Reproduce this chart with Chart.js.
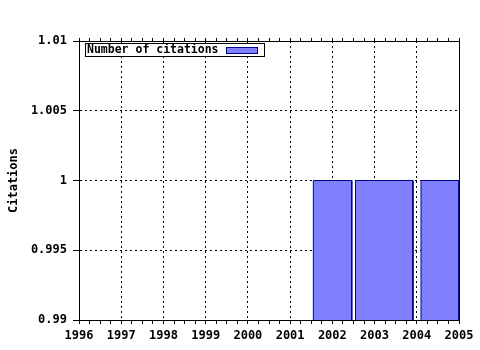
<!DOCTYPE html>
<html>
<head>
<meta charset="utf-8">
<script src="https://cdn.jsdelivr.net/npm/chart.js@4.4.1/dist/chart.umd.min.js"></script>
<style>
  html, body { margin: 0; background: #fff; }
</style>
</head>
<body>
<canvas id="chart" width="480" height="350"></canvas>
<script>
// ---- data ----
const years = [1996, 1997, 1998, 1999, 2000, 2001, 2002, 2003, 2004, 2005];
const yTicks = [0.99, 0.995, 1, 1.005, 1.01];
const barStart = [2001.55, 2002.55, 2004.1];   // left edge of each bar (year)
const barEnd   = [2002.46, 2003.91, 2005.0];   // right edge of each bar (year)
const citations = [1, 1, 1];
const seriesLabel = 'Number of citations';
const yTitle = 'Citations';

const yMin = yTicks[0], yMax = yTicks[yTicks.length - 1];
const xMin = years[0], xMax = years[years.length - 1];

const font = { family: '"DejaVu Sans Mono", monospace', size: 12, weight: 'bold' };
const fill = '#8080ff', edge = '#000090';

// major ticks on years, minor every quarter
const xTickList = [];
years.forEach((y, i) => {
  xTickList.push({ value: y });
  if (i < years.length - 1) [0.25, 0.5, 0.75].forEach(f => xTickList.push({ value: y + f }));
});
const isYear = v => years.includes(v);

// each bar is a closed outline filled down to the axis
const datasets = barStart.map((s, i) => ({
  label: seriesLabel,
  data: [
    { x: s, y: yMin }, { x: s, y: citations[i] },
    { x: barEnd[i], y: citations[i] }, { x: barEnd[i], y: yMin }
  ],
  borderColor: edge,
  backgroundColor: fill,
  borderWidth: 1,
  fill: 'start',
  pointRadius: 0,
  tension: 0,
  xAxisID: 'x',
  yAxisID: 'y'
}));

// legend drawn inside the plot, top left, with a frame
const boxLegend = {
  id: 'boxLegend',
  afterDatasetsDraw(chart) {
    const { ctx, chartArea: a } = chart;
    const label = chart.data.datasets[0].label;
    ctx.save();
    ctx.font = 'bold 11.5px "DejaVu Sans Mono", monospace';
    const tw = ctx.measureText(label).width;
    const x = Math.round(a.left) + 6, y = Math.round(a.top) + 2, h = 13, w = Math.round(tw) + 47;
    ctx.fillStyle = '#fff';
    ctx.fillRect(x, y, w, h);
    ctx.strokeStyle = '#000';
    ctx.lineWidth = 1;
    ctx.strokeRect(x + 0.5, y + 0.5, w, h);
    ctx.fillStyle = '#000';
    ctx.textBaseline = 'middle';
    ctx.fillText(label, x + 2, y + h / 2 + 1);
    const sx = x + w - 38;
    ctx.fillStyle = fill;
    ctx.fillRect(sx, y + 4, 31, 6);
    ctx.strokeStyle = edge;
    ctx.strokeRect(sx + 0.5, y + 4.5, 31, 6);
    ctx.restore();
  }
};

new Chart(document.getElementById('chart'), {
  type: 'line',
  data: { datasets },
  plugins: [boxLegend],
  options: {
    responsive: false,
    animation: false,
    layout: { padding: { left: 0, top: 38, right: 21, bottom: 0 } },
    plugins: { legend: { display: false }, tooltip: { enabled: false } },
    scales: {
      x: {
        type: 'linear', position: 'bottom', min: xMin, max: xMax,
        afterBuildTicks: s => { s.ticks = xTickList.map(t => ({ ...t })); },
        afterFit: s => { s.height = 30; },
        ticks: {
          callback: v => isYear(v) ? String(v) : '',
          autoSkip: false, maxRotation: 0, minRotation: 0,
          padding: 5, color: '#000', font
        },
        grid: {
          color: c => (c.tick && isYear(c.tick.value)) ? '#000' : 'rgba(0,0,0,0)',
          tickColor: '#000', tickLength: 4, lineWidth: 1
        },
        border: { color: '#000', dash: [2, 3], z: 1 }
      },
      x2: {
        type: 'linear', position: 'top', min: xMin, max: xMax,
        afterBuildTicks: s => { s.ticks = xTickList.map(t => ({ ...t })); },
        afterFit: s => { s.height = 3; },
        ticks: { display: false },
        grid: { drawOnChartArea: false, tickLength: 3, color: '#000' },
        border: { color: '#000', z: 1 }
      },
      y: {
        type: 'linear', position: 'left', min: yMin, max: yMax,
        afterBuildTicks: s => { s.ticks = yTicks.map(v => ({ value: v })); },
        afterFit: s => { s.width = 79; },
        ticks: { callback: v => String(v), padding: 6, color: '#000', font },
        grid: { color: '#000', tickColor: '#000', tickLength: 6, lineWidth: 1 },
        border: { color: '#000', dash: [2, 3], z: 1 },
        title: { display: true, text: yTitle, color: '#000', font, padding: { top: 7, bottom: 0 } }
      },
      y2: {
        type: 'linear', position: 'right', min: yMin, max: yMax,
        afterFit: s => { s.width = 0; },
        ticks: { display: false },
        grid: { drawOnChartArea: false, drawTicks: false },
        border: { color: '#000', z: 1 }
      }
    }
  }
});
</script>
</body>
</html>
